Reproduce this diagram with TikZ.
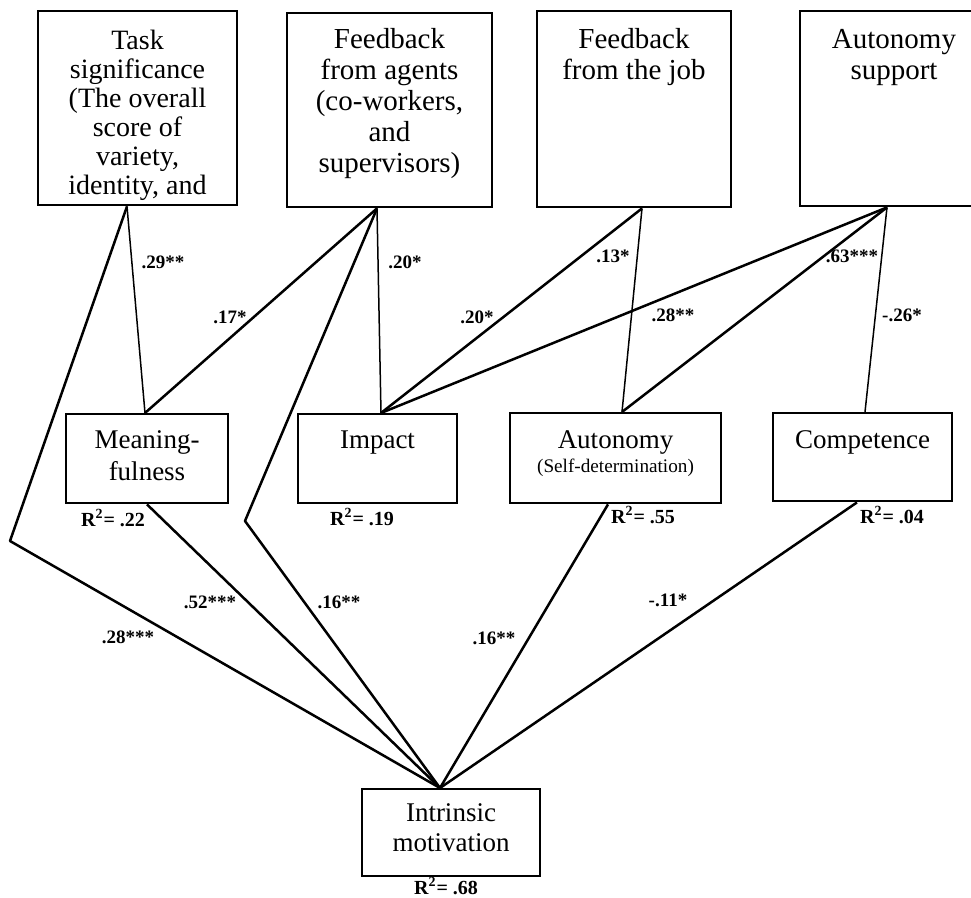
\documentclass[tikz,border=0pt]{standalone}
\usepackage{fontspec}
\setmainfont{Liberation Serif}

\tikzset{
  box/.style={draw,line width=1.2pt,inner sep=0pt,align=flush center,anchor=north},
  big/.style={font=\fontsize{14.5}{15.5}\selectfont},
  mid/.style={font=\fontsize{13.5}{16}\selectfont},
  coef/.style={font=\fontsize{9.5}{11}\selectfont\bfseries,inner sep=0pt},
  rsq/.style={font=\fontsize{10}{12}\selectfont\bfseries,inner sep=0pt},
  link/.style={line width=1.25pt,line join=round},
  thin link/.style={line width=0.75pt},
}

\begin{document}
\begin{tikzpicture}[x=0.5pt,y=-0.5pt]
  \clip (0,0) rectangle (971,898);
  % job characteristics
  \node[box,font=\fontsize{14}{14.5}\selectfont,text width=99.5pt,text height=19pt,text depth=78pt] (task) at (137.5,10)
    {Task\\significance\\(The overall\\score of\\variety,\\identity, and};
  \node[box,big,text width=102.5pt,text height=17.5pt,text depth=79.5pt] (agents) at (389.5,12)
    {Feedback\\from agents\\(co-workers,\\and\\supervisors)};
  \node[box,big,text width=97pt,text height=18.5pt,text depth=79.5pt] (job) at (634,10)
    {Feedback\\from the job};
  \node[box,big,text width=94pt,text height=18.5pt,text depth=79pt] (support) at (894,10)
    {Autonomy\\support};
  % psychological empowerment
  \node[box,mid,text width=81pt,text height=17pt,text depth=27.5pt] (mean) at (147,413) {Meaning-\\fulness};
  \node[box,mid,text width=79.5pt,text height=17pt,text depth=27.5pt] (impact) at (377.5,413) {Impact};
  \node[box,mid,text width=105.5pt,text height=17.5pt,text depth=27.5pt] (auto) at (615.5,412)
    {Autonomy\\[-4pt]{\fontsize{9.6}{11}\selectfont(Self-determination)}};
  \node[box,mid,text width=89.5pt,text height=17.5pt,text depth=26.5pt] (comp) at (862.5,412) {Competence};
  % outcome
  \node[box,font=\fontsize{13.5}{15}\selectfont,text width=89pt,text height=16pt,text depth=27.5pt] (intr) at (451,788)
    {Intrinsic\\motivation};

  \coordinate (bendA) at (10,541);
  \coordinate (bendB) at (245,521);

  % paths
  \draw[thin link] ([xshift=-5.25pt]task.south) -- ([xshift=-1pt]mean.north);
  \draw[link] ([xshift=-5.25pt]task.south) -- (bendA) -- ([xshift=-5.5pt]intr.north);
  \draw[link] ([xshift=-6.25pt]agents.south) -- ([xshift=-1pt]mean.north);
  \draw[thin link] ([xshift=-6.25pt]agents.south) -- ([xshift=1.75pt]impact.north);
  \draw[link] ([xshift=-6.25pt]agents.south) -- (bendB) -- ([xshift=-5.5pt]intr.north);
  \draw[link] ([xshift=4pt]job.south) -- ([xshift=1.75pt]impact.north);
  \draw[thin link] ([xshift=4pt]job.south) -- ([xshift=3.25pt]auto.north);
  \draw[link] ([xshift=-3.5pt]support.south) -- ([xshift=1.75pt]impact.north);
  \draw[link] ([xshift=-3.5pt]support.south) -- ([xshift=3.25pt]auto.north);
  \draw[thin link] ([xshift=-3.5pt]support.south) -- ([xshift=1.25pt]comp.north);
  \draw[link] (mean.south) -- ([xshift=-5.5pt]intr.north);
  \draw[link] ([xshift=-3.75pt]auto.south) -- ([xshift=-5.5pt]intr.north);
  \draw[link] ([xshift=-2.75pt]comp.south) -- ([xshift=-5.5pt]intr.north);

  % coefficients
  \node[coef] (c1) at (163,262) {.29**};
  \node[coef] (c2) at (230,317) {.17*};
  \node[coef] (c3) at (405,262) {.20*};
  \node[coef] (c4) at (477,317) {.20*};
  \node[coef] (c5) at (613,256) {.13*};
  \node[coef] (c6) at (673,315) {.28**};
  \node[coef] (c7) at (852,256) {.63***};
  \node[coef] (c8) at (902,315) {-.26*};
  \node[coef] (c9) at (128,637) {.28***};
  \node[coef] (c10) at (210,602) {.52***};
  \node[coef] (c11) at (339,602) {.16**};
  \node[coef] (c12) at (494,638) {.16**};
  \node[coef] (c13) at (668,600) {-.11*};

  % explained variance
  \node[rsq] (rMean) at (113,518) {R\textsuperscript{2}= .22};
  \node[rsq] (rImpact) at (362,517) {R\textsuperscript{2}= .19};
  \node[rsq] (rAuto) at (643,515) {R\textsuperscript{2}= .55};
  \node[rsq] (rComp) at (892,515) {R\textsuperscript{2}= .04};
  \node[rsq] (rIntr) at (446,886) {R\textsuperscript{2}= .68};
\end{tikzpicture}
\end{document}
